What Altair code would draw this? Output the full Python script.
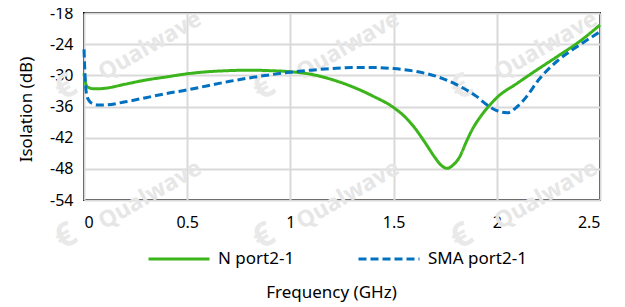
import altair as alt
import pandas as pd

# ---- data ----
freq_n = [0.0, 0.005, 0.01, 0.02, 0.05, 0.1, 0.2, 0.3, 0.4, 0.5, 0.6, 0.7, 0.8, 0.9,
          1.0, 1.1, 1.2, 1.3, 1.4, 1.5, 1.55, 1.6, 1.65, 1.7, 1.73, 1.76, 1.79,
          1.82, 1.85, 1.88, 1.92, 1.96, 2.0, 2.1, 2.2, 2.3, 2.4, 2.5]
isol_n = [-29.6, -31.0, -31.8, -32.3, -32.6, -32.5, -31.7, -30.9, -30.3, -29.7, -29.3,
          -29.1, -29.0, -29.1, -29.3, -29.8, -30.8, -32.2, -34.0, -36.2, -37.8, -40.0,
          -42.8, -45.8, -47.3, -47.9, -47.2, -45.7, -43.0, -40.5, -38.0, -36.0, -34.3,
          -31.5, -28.8, -26.2, -23.5, -20.3]

freq_sma = [0.0, 0.005, 0.01, 0.02, 0.04, 0.07, 0.1, 0.2, 0.3, 0.4, 0.5, 0.6, 0.7, 0.8,
            0.9, 1.0, 1.1, 1.2, 1.3, 1.4, 1.5, 1.6, 1.7, 1.8, 1.9, 1.95, 2.0, 2.05,
            2.1, 2.15, 2.2, 2.3, 2.4, 2.5]
isol_sma = [-25.0, -30.0, -33.0, -34.6, -35.4, -35.7, -35.7, -35.1, -34.3, -33.5, -32.8,
            -32.0, -31.2, -30.5, -29.9, -29.4, -29.0, -28.7, -28.5, -28.5, -28.7, -29.2,
            -30.1, -31.7, -34.0, -35.6, -36.8, -37.2, -36.0, -33.8, -31.0, -27.0, -24.2,
            -21.6]

series_names = ["N port2-1", "SMA port2-1"]
x_ticks = [0, 0.5, 1, 1.5, 2, 2.5]
y_ticks = [-54, -48, -42, -36, -30, -24, -18]
watermark_text = "Qualwave"

df = pd.concat([
    pd.DataFrame({"freq": freq_n, "isol": isol_n, "series": series_names[0]}),
    pd.DataFrame({"freq": freq_sma, "isol": isol_sma, "series": series_names[1]}),
])

FONT = "Noto Sans"
legend = alt.Legend(
    orient="none", legendX=63, legendY=214, direction="horizontal", title=None,
    symbolType="stroke", symbolSize=3721, symbolStrokeWidth=3, labelFontSize=17,
    labelFont=FONT, labelColor="#000000", labelOffset=7, columnPadding=57, padding=0,
)

lines = alt.Chart(df).mark_line(strokeWidth=3, interpolate="monotone").encode(
    x=alt.X("freq:Q", title="Frequency (GHz)",
            scale=alt.Scale(domain=[0, 2.5], nice=False),
            axis=alt.Axis(values=x_ticks, labelExpr="'' + datum.value", grid=True,
                          ticks=False, domain=False, labelPadding=14,
                          titleX=247, titleY=97, titleBaseline="alphabetic",
                          titleAlign="center")),
    y=alt.Y("isol:Q", title="Isolation (dB)",
            scale=alt.Scale(domain=[-54, -18], nice=False),
            axis=alt.Axis(values=y_ticks, labelExpr="'' + datum.value", grid=True,
                          ticks=False, domain=False, labelPadding=11,
                          titleX=-53, titleY=96, titleBaseline="alphabetic",
                          titleAlign="center")),
    color=alt.Color("series:N", scale=alt.Scale(domain=series_names,
                                                range=["#3CB41B", "#0070C0"]),
                    legend=legend),
    strokeDash=alt.StrokeDash("series:N", scale=alt.Scale(domain=series_names,
                                                          range=[[1, 0], [8, 4]]),
                              legend=legend),
)

# faint watermark
wm_layers = []
for cx, cy in [(150, 46), (348, 46), (546, 46), (150, 195), (348, 195), (546, 195)]:
    wm_layers.append(
        alt.Chart(alt.InlineData(values=[{"a": 1}])).mark_text(
            text=watermark_text, angle=330, font="Open Sans", fontWeight="bold",
            fontSize=23, color="#e6e6e6", align="center", baseline="middle",
        ).encode(x=alt.value(cx - 84), y=alt.value(cy - 13))
    )
    wm_layers.append(
        alt.Chart(alt.InlineData(values=[{"a": 1}])).mark_text(
            text="€", angle=330, font="Open Sans", fontWeight="bold",
            fontSize=34, color="#e9e9e9", align="center", baseline="middle",
        ).encode(x=alt.value(cx - 84 - 84), y=alt.value(cy - 13 + 42))
    )

chart = alt.layer(*wm_layers, lines).properties(
    width=516, height=187,
    autosize=alt.AutoSizeParams(type="none"),
    padding={"left": 76, "top": 5, "right": 9, "bottom": 106},
).configure_view(
    stroke="#000000", strokeWidth=2,
).configure_axis(
    labelFont=FONT, labelFontSize=16, labelColor="#000000",
    titleFont=FONT, titleFontSize=17, titleColor="#000000", titleFontWeight="normal",
    gridColor="#d9d9d9", gridWidth=2,
)

chart.save("out.html", embed_options={"renderer": "svg", "actions": False})
